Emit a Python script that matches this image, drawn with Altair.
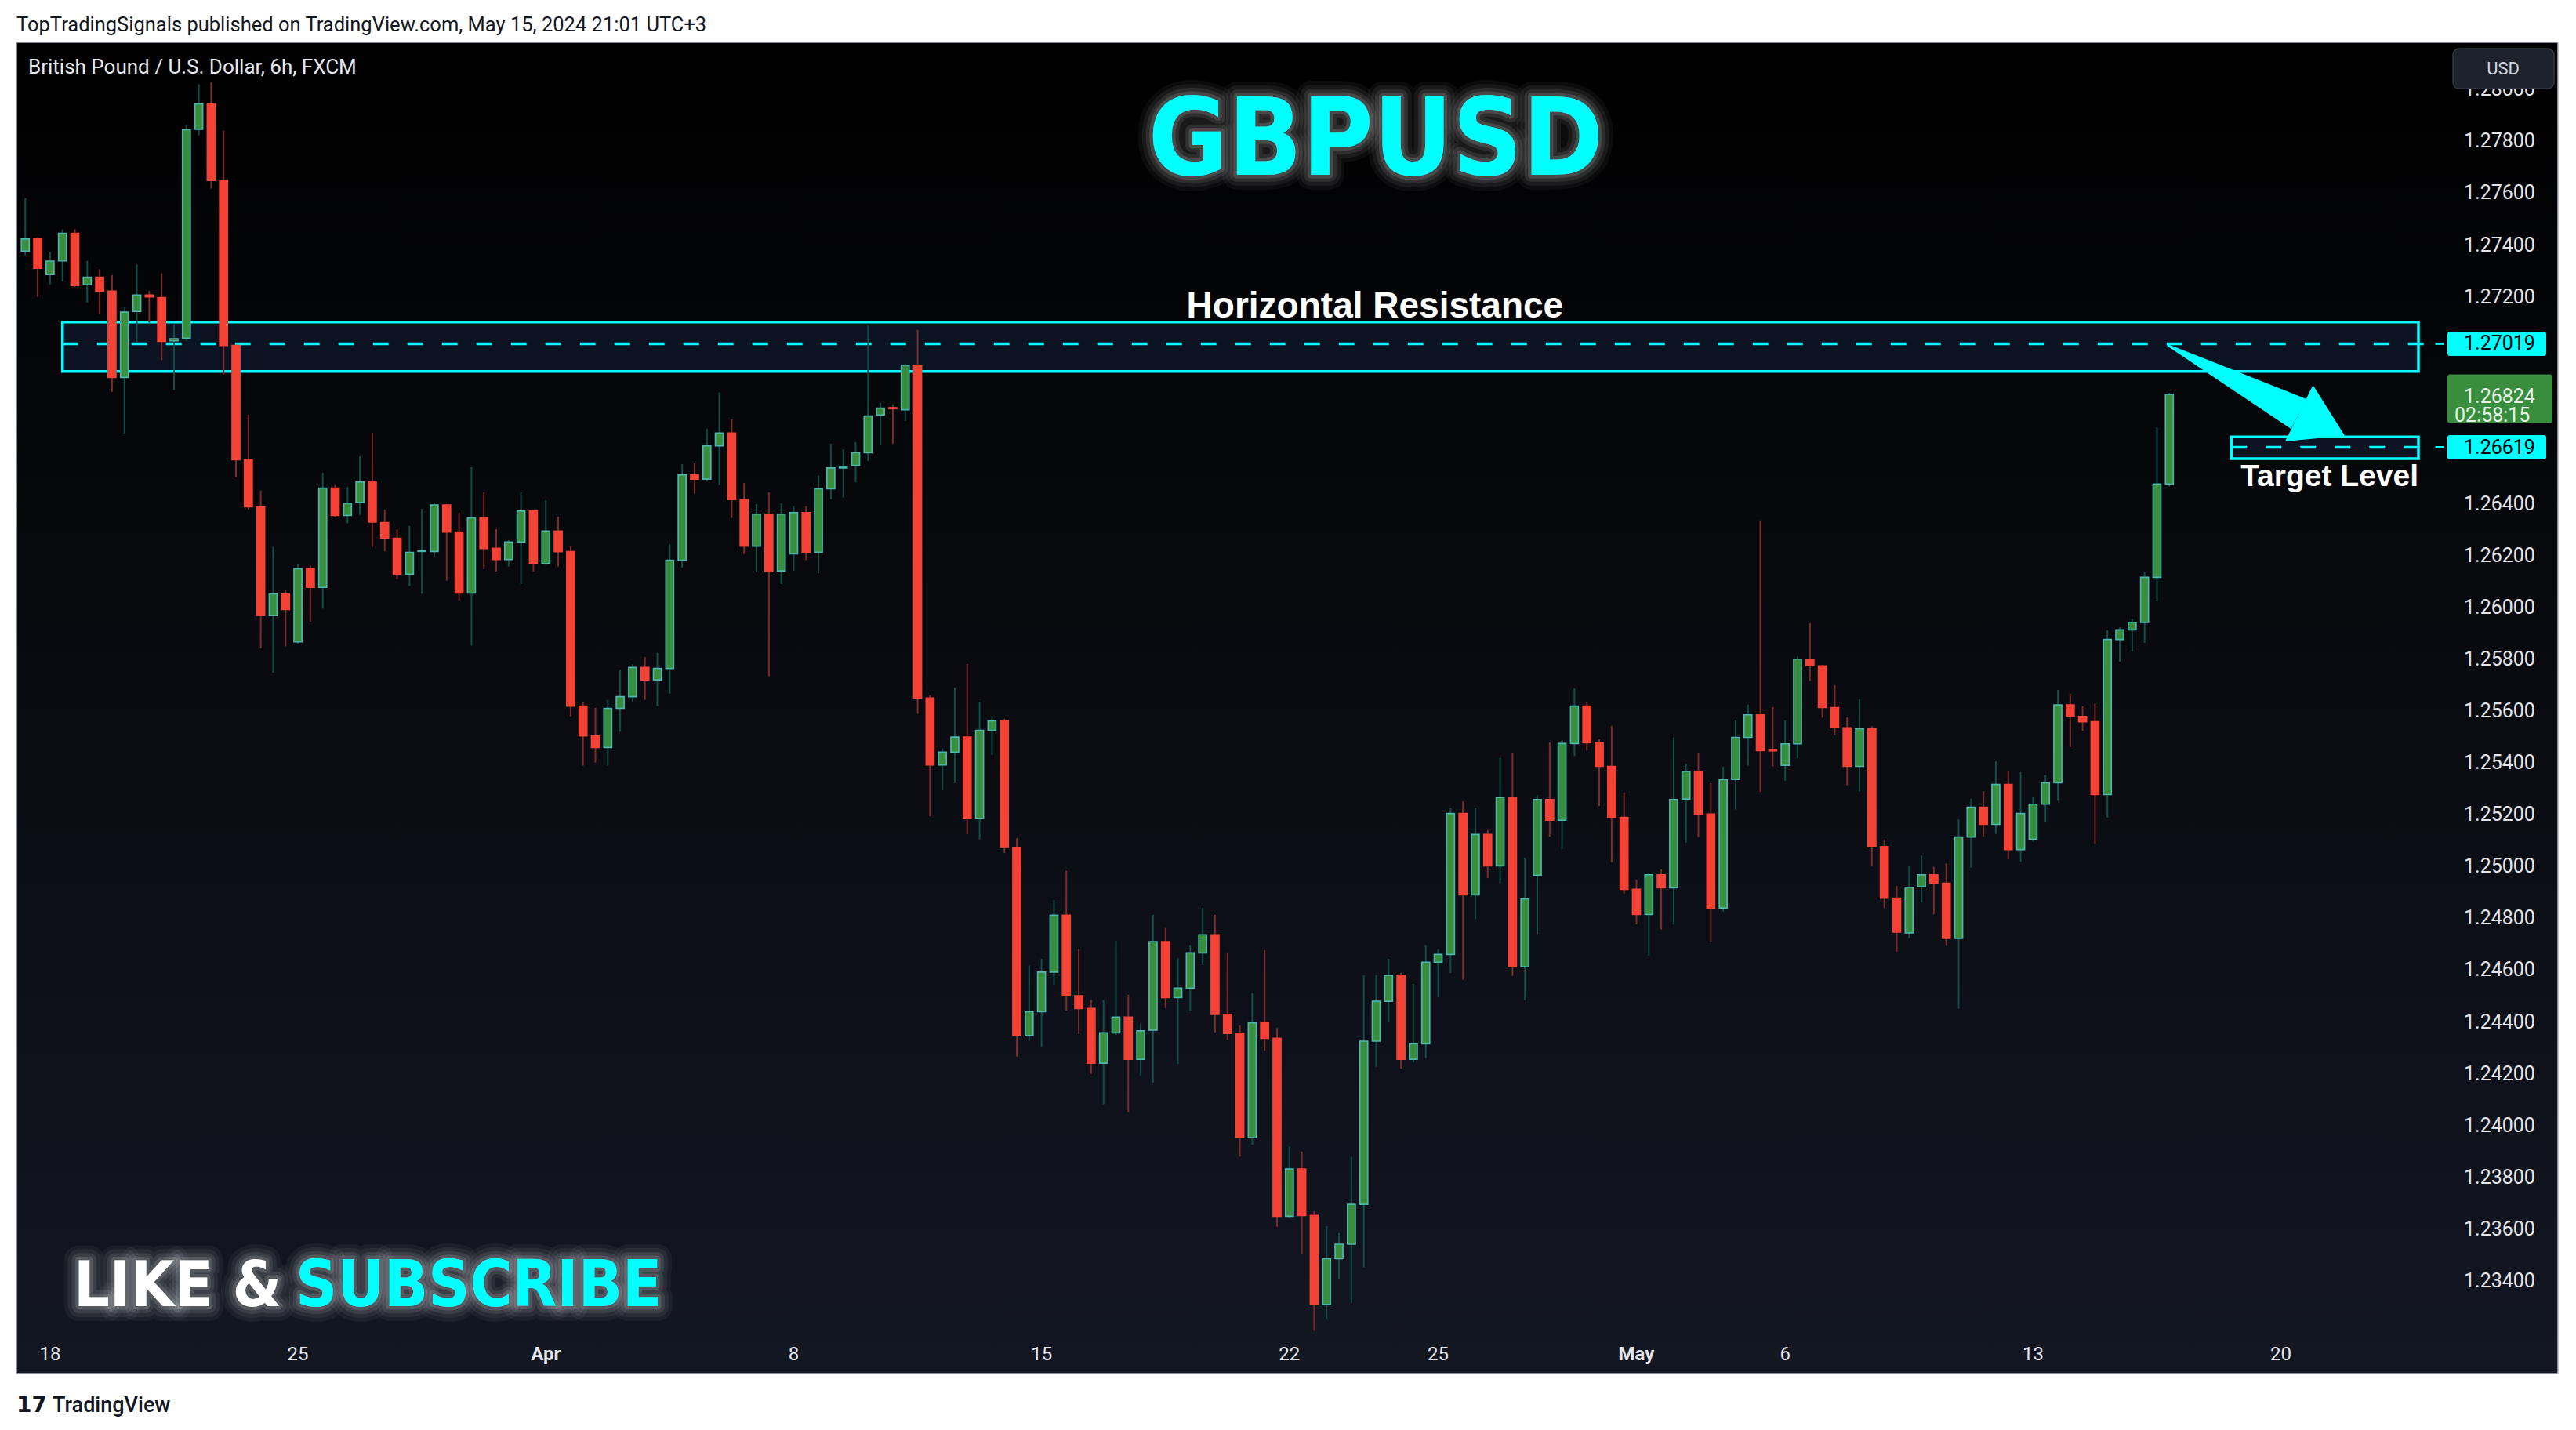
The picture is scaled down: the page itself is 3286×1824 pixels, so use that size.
import altair as alt
import pandas as pd

# ---------------- data (GBPUSD 6h candles, FXCM) ----------------
FIRST_CANDLE = -2  # candle index 0 = Mon 18 Mar 00:00, 4 candles per trading day
OPEN = [1.27376, 1.27423, 1.27286, 1.27339, 1.27445, 1.27247, 1.27276, 1.27222, 1.26889, 1.27144,
        1.27207, 1.27197, 1.27030, 1.27040, 1.27847, 1.27945, 1.27649, 1.27012, 1.26571, 1.26389,
        1.25969, 1.26053, 1.25868, 1.26150, 1.26078, 1.26461, 1.26356, 1.26406, 1.26485, 1.26328,
        1.26268, 1.26129, 1.26217, 1.26217, 1.26396, 1.26292, 1.26056, 1.26347, 1.26229, 1.26186,
        1.26253, 1.26373, 1.26171, 1.26296, 1.26216, 1.25620, 1.25505, 1.25460, 1.25611, 1.25656,
        1.25769, 1.25721, 1.25765, 1.26183, 1.26513, 1.26496, 1.26625, 1.26674, 1.26417, 1.26237,
        1.26361, 1.26142, 1.26208, 1.26367, 1.26214, 1.26459, 1.26539, 1.26549, 1.26598, 1.26744,
        1.26772, 1.26764, 1.26936, 1.25651, 1.25393, 1.25442, 1.25500, 1.25185, 1.25526, 1.25563,
        1.25074, 1.24348, 1.24440, 1.24593, 1.24812, 1.24501, 1.24452, 1.24241, 1.24358, 1.24419,
        1.24256, 1.24369, 1.24710, 1.24494, 1.24531, 1.24667, 1.24737, 1.24429, 1.24356, 1.23953,
        1.24397, 1.24337, 1.23650, 1.23832, 1.23653, 1.23309, 1.23486, 1.23542, 1.23696, 1.24326,
        1.24480, 1.24580, 1.24256, 1.24316, 1.24631, 1.24661, 1.25205, 1.24891, 1.25124, 1.25003,
        1.25267, 1.24613, 1.24967, 1.25259, 1.25179, 1.25475, 1.25620, 1.25478, 1.25387, 1.25190,
        1.24912, 1.24815, 1.24968, 1.24918, 1.25261, 1.25368, 1.25203, 1.24840, 1.25337, 1.25499,
        1.25586, 1.25451, 1.25391, 1.25474, 1.25801, 1.25775, 1.25614, 1.25536, 1.25387, 1.25533,
        1.25077, 1.24878, 1.24744, 1.24923, 1.24968, 1.24936, 1.24723, 1.25114, 1.25229, 1.25163,
        1.25317, 1.25066, 1.25106, 1.25241, 1.25324, 1.25624, 1.25580, 1.25559, 1.25278, 1.25877,
        1.25914, 1.25943, 1.26117, 1.26477]
HIGH = [1.27581, 1.27430, 1.27373, 1.27461, 1.27461, 1.27339, 1.27307, 1.27284, 1.27159, 1.27325,
        1.27222, 1.27291, 1.27094, 1.27863, 1.28021, 1.28029, 1.27842, 1.27015, 1.26745, 1.26452,
        1.26235, 1.26070, 1.26166, 1.26163, 1.26521, 1.26477, 1.26465, 1.26584, 1.26675, 1.26378,
        1.26302, 1.26315, 1.26381, 1.26406, 1.26400, 1.26366, 1.26542, 1.26445, 1.26303, 1.26261,
        1.26445, 1.26378, 1.26415, 1.26351, 1.26236, 1.25634, 1.25613, 1.25643, 1.25761, 1.25782,
        1.25809, 1.25825, 1.26245, 1.26554, 1.26557, 1.26690, 1.26831, 1.26727, 1.26481, 1.26400,
        1.26445, 1.26402, 1.26392, 1.26392, 1.26510, 1.26633, 1.26611, 1.26639, 1.27089, 1.26791,
        1.26785, 1.26942, 1.27073, 1.25661, 1.25457, 1.25692, 1.25782, 1.25637, 1.25581, 1.25570,
        1.25109, 1.24618, 1.24644, 1.24871, 1.24984, 1.24681, 1.24485, 1.24485, 1.24714, 1.24505,
        1.24393, 1.24814, 1.24763, 1.24646, 1.24696, 1.24841, 1.24814, 1.24666, 1.24387, 1.24511,
        1.24677, 1.24376, 1.23919, 1.23900, 1.23670, 1.23612, 1.23585, 1.23879, 1.24580, 1.24580,
        1.24644, 1.24590, 1.24547, 1.24696, 1.24681, 1.25225, 1.25252, 1.25225, 1.25141, 1.25420,
        1.25440, 1.25034, 1.25277, 1.25479, 1.25488, 1.25688, 1.25634, 1.25491, 1.25544, 1.25286,
        1.24950, 1.24974, 1.24989, 1.25498, 1.25398, 1.25440, 1.25322, 1.25386, 1.25565, 1.25625,
        1.26337, 1.25616, 1.25565, 1.25811, 1.25940, 1.25779, 1.25700, 1.25576, 1.25646, 1.25542,
        1.25104, 1.24925, 1.25004, 1.25043, 1.24999, 1.25012, 1.25182, 1.25262, 1.25291, 1.25406,
        1.25367, 1.25364, 1.25270, 1.25353, 1.25682, 1.25667, 1.25619, 1.25630, 1.25912, 1.25924,
        1.25958, 1.26136, 1.26696, 1.26829]
LOW = [1.27361, 1.27200, 1.27248, 1.27259, 1.27237, 1.27178, 1.27134, 1.26833, 1.26672, 1.27024,
       1.27100, 1.26955, 1.26840, 1.27030, 1.27823, 1.27618, 1.26899, 1.26503, 1.26378, 1.25843,
       1.25748, 1.25850, 1.25860, 1.25946, 1.25996, 1.26348, 1.26326, 1.26359, 1.26235, 1.26217,
       1.26110, 1.26083, 1.26053, 1.26197, 1.26104, 1.26028, 1.25853, 1.26149, 1.26140, 1.26159,
       1.26091, 1.26140, 1.26165, 1.26159, 1.25580, 1.25390, 1.25402, 1.25390, 1.25520, 1.25638,
       1.25644, 1.25620, 1.25668, 1.26155, 1.26440, 1.26486, 1.26473, 1.26346, 1.26207, 1.26137,
       1.25735, 1.26091, 1.26142, 1.26183, 1.26132, 1.26418, 1.26425, 1.26484, 1.26566, 1.26627,
       1.26633, 1.26721, 1.25590, 1.25195, 1.25295, 1.25322, 1.25125, 1.25105, 1.25432, 1.25052,
       1.24266, 1.24327, 1.24303, 1.24544, 1.24444, 1.24354, 1.24200, 1.24082, 1.24350, 1.24051,
       1.24192, 1.24166, 1.24454, 1.24237, 1.24444, 1.24620, 1.24360, 1.24330, 1.23880, 1.23927,
       1.24290, 1.23609, 1.23645, 1.23503, 1.23208, 1.23253, 1.23406, 1.23315, 1.23452, 1.24227,
       1.24399, 1.24220, 1.24244, 1.24261, 1.24496, 1.24590, 1.24563, 1.24797, 1.24956, 1.24936,
       1.24578, 1.24484, 1.24741, 1.25116, 1.25068, 1.25427, 1.25448, 1.25234, 1.25017, 1.24896,
       1.24777, 1.24657, 1.24757, 1.24777, 1.25093, 1.25114, 1.24711, 1.24827, 1.25221, 1.25390,
       1.25288, 1.25387, 1.25332, 1.25418, 1.25717, 1.25575, 1.25508, 1.25314, 1.25290, 1.25003,
       1.24839, 1.24672, 1.24723, 1.24861, 1.24816, 1.24694, 1.24451, 1.24996, 1.25116, 1.25126,
       1.25028, 1.25020, 1.25096, 1.25173, 1.25254, 1.25461, 1.25525, 1.25088, 1.25189, 1.25791,
       1.25830, 1.25864, 1.26024, 1.26467]
CLOSE = [1.27423, 1.27310, 1.27338, 1.27445, 1.27244, 1.27276, 1.27222, 1.26889, 1.27141, 1.27207,
         1.27200, 1.27028, 1.27038, 1.27845, 1.27945, 1.27649, 1.27012, 1.26571, 1.26389, 1.25969,
         1.26053, 1.25993, 1.26150, 1.26078, 1.26461, 1.26356, 1.26403, 1.26485, 1.26330, 1.26268,
         1.26129, 1.26213, 1.26219, 1.26396, 1.26292, 1.26056, 1.26347, 1.26228, 1.26186, 1.26253,
         1.26373, 1.26171, 1.26296, 1.26216, 1.25620, 1.25505, 1.25460, 1.25611, 1.25656, 1.25769,
         1.25721, 1.25765, 1.26183, 1.26513, 1.26496, 1.26625, 1.26674, 1.26417, 1.26237, 1.26361,
         1.26140, 1.26361, 1.26367, 1.26214, 1.26459, 1.26539, 1.26545, 1.26598, 1.26740, 1.26770,
         1.26768, 1.26936, 1.25651, 1.25393, 1.25442, 1.25500, 1.25185, 1.25526, 1.25563, 1.25074,
         1.24348, 1.24440, 1.24593, 1.24812, 1.24501, 1.24452, 1.24241, 1.24358, 1.24419, 1.24256,
         1.24366, 1.24710, 1.24494, 1.24531, 1.24667, 1.24737, 1.24429, 1.24356, 1.23953, 1.24397,
         1.24337, 1.23650, 1.23832, 1.23653, 1.23309, 1.23486, 1.23542, 1.23696, 1.24326, 1.24480,
         1.24580, 1.24256, 1.24316, 1.24631, 1.24661, 1.25205, 1.24891, 1.25124, 1.25003, 1.25267,
         1.24613, 1.24875, 1.25259, 1.25179, 1.25475, 1.25620, 1.25478, 1.25387, 1.25190, 1.24912,
         1.24815, 1.24968, 1.24918, 1.25259, 1.25368, 1.25203, 1.24840, 1.25337, 1.25499, 1.25586,
         1.25448, 1.25447, 1.25474, 1.25801, 1.25776, 1.25614, 1.25537, 1.25387, 1.25532, 1.25077,
         1.24878, 1.24747, 1.24920, 1.24968, 1.24936, 1.24723, 1.25114, 1.25229, 1.25163, 1.25317,
         1.25066, 1.25205, 1.25241, 1.25324, 1.25624, 1.25581, 1.25559, 1.25278, 1.25877, 1.25914,
         1.25943, 1.26117, 1.26477, 1.26824]

TIME_TICKS = [0, 20, 40, 60, 80, 100, 112, 128, 140, 160, 180]
TIME_LABELS = ["18", "25", "Apr", "8", "15", "22", "25", "May", "6", "13", "20"]
PRICE_TICKS = [1.234, 1.236, 1.238, 1.240, 1.242, 1.244, 1.246, 1.248, 1.250, 1.252,
               1.254, 1.256, 1.258, 1.260, 1.262, 1.264, 1.272, 1.274, 1.276, 1.278, 1.280]

RESISTANCE = 1.27019
TARGET = 1.26619
LAST_PRICE = 1.26824
COUNTDOWN = "02:58:15"
BOX_START = [1.0, 176.0]
BOX_END = [191.1, 191.1]
BOX_TOP = [1.27103, 1.26659]
BOX_BOTTOM = [1.26912, 1.26575]
LEVEL_START = [1.0, 176.0]
LEVEL_END = 192.46
LEVEL_TICK_END = 193.15

HEADER = "TopTradingSignals published on TradingView.com, May 15, 2024 21:01 UTC+3"
SYMBOL = "British Pound / U.S. Dollar, 6h, FXCM"
TITLE = "GBPUSD"
RES_TEXT = "Horizontal Resistance"
TARGET_TEXT = "Target Level"

# ---------------- styles ----------------
W, H = 3242, 1698
X_DOMAIN = [-2.396, 202.04]
Y_DOMAIN = [1.230425, 1.281826]
xs = alt.Scale(domain=X_DOMAIN, nice=False, zero=False)
ys = alt.Scale(domain=Y_DOMAIN, nice=False, zero=False)

FONT = "Roboto"
COND = "'Liberation Sans Narrow', 'DejaVu Sans Condensed', 'Liberation Sans', sans-serif"
BOLD = "'Liberation Sans', Arial, sans-serif"
CYAN = "#00ffff"
AXIS_TEXT = "#e3e5ea"
UP_BODY, UP_BORDER, UP_WICK = "#388e3c", "#4db6ac", "#0f4e47"
DN_BODY, DN_BORDER, DN_WICK = "#f44336", "#f44336", "#7d2a2a"
UP = "datum.close >= datum.open"

df = pd.DataFrame({
    "i": list(range(FIRST_CANDLE, FIRST_CANDLE + len(OPEN))),
    "open": OPEN, "high": HIGH, "low": LOW, "close": CLOSE,
})
one = pd.DataFrame({"k": [0]})


def X(field):
    return alt.X(field, scale=xs, axis=None)


def Y(field):
    return alt.Y(field, scale=ys, axis=None)


def dx(v):
    return alt.XDatum(v, scale=xs, axis=None)


def dy(v):
    return alt.YDatum(v, scale=ys, axis=None)


bg = alt.Chart(one).mark_rect(
    fill=alt.Gradient(gradient="linear",
                      stops=[alt.GradientStop(color="#000000", offset=0),
                             alt.GradientStop(color="#131722", offset=1)],
                      x1=0, x2=0, y1=0, y2=1),
    stroke="#b4b7bf", strokeWidth=1.5,
).encode(x=alt.value(0), x2=alt.value("width"), y=alt.value(0), y2=alt.value("height"))

boxes = alt.Chart(pd.DataFrame({"x": BOX_START, "x2": BOX_END, "top": BOX_TOP, "bottom": BOX_BOTTOM})).mark_rect(
    fill="#0b1222", stroke=CYAN, strokeWidth=3.5
).encode(x=X("x:Q"), x2="x2:Q", y=Y("top:Q"), y2="bottom:Q")

levels_df = pd.DataFrame({"x": LEVEL_START, "x2": [LEVEL_END, LEVEL_END], "xt": [LEVEL_TICK_END, LEVEL_TICK_END],
                          "y": [RESISTANCE, TARGET]})
dashed = alt.Chart(levels_df).mark_rule(color=CYAN, strokeWidth=3.5, strokeDash=[20, 24]).encode(
    x=X("x:Q"), x2="x2:Q", y=Y("y:Q"))
tick_lines = alt.Chart(levels_df).mark_rule(color=CYAN, strokeWidth=3).encode(
    x=X("x2:Q"), x2="xt:Q", y=Y("y:Q"))

wicks = alt.Chart(df).mark_rule(strokeWidth=2).encode(
    x=X("i:Q"), y=Y("low:Q"), y2="high:Q",
    color=alt.condition(UP, alt.value(UP_WICK), alt.value(DN_WICK)),
)
bodies = alt.Chart(df).mark_bar(size=10, strokeWidth=1.7, orient="vertical").encode(
    x=X("i:Q"), y=Y("open:Q"), y2="close:Q",
    fill=alt.condition(UP, alt.value(UP_BODY), alt.value(DN_BODY)),
    stroke=alt.condition(UP, alt.value(UP_BORDER), alt.value(DN_BORDER)),
)

# ---- scale labels drawn as text through the scales ----
time_df = pd.DataFrame({"t": TIME_TICKS, "label": TIME_LABELS})
time_days = alt.Chart(time_df).transform_filter("isValid(toNumber(datum.label)) && toNumber(datum.label) > 0").mark_text(
    font=FONT, fontSize=24, color=AXIS_TEXT, align="center", baseline="middle"
).encode(x=X("t:Q"), y=alt.value(H - 24), text="label:N")
time_months = alt.Chart(time_df).transform_filter("!(toNumber(datum.label) > 0)").mark_text(
    font=FONT, fontSize=24, fontWeight="bold", color=AXIS_TEXT, align="center", baseline="middle"
).encode(x=X("t:Q"), y=alt.value(H - 24), text="label:N")
price_labels = alt.Chart(pd.DataFrame({"p": PRICE_TICKS})).mark_text(
    font=FONT, fontSize=25, color=AXIS_TEXT, align="left", baseline="middle"
).encode(x=alt.value(W - 120), y=Y("p:Q"), text=alt.Text("p:Q", format=".5f"))

# arrow from resistance to target
shaft = alt.Chart(one).mark_point(shape="M-1,-0.012 L1,-0.227 L1,0.227 L-1,0.012 Z", filled=True,
                                  size=35872, angle=27.7, color=CYAN, opacity=1, strokeWidth=0).encode(
    x=dx(176.14), y=dy(1.26881))
head = alt.Chart(one).mark_point(shape="M0.8125,0 L-0.8125,-1 L-0.8125,1 Z", filled=True,
                                 size=6400, angle=26.3, color=CYAN, opacity=1, strokeWidth=0).encode(
    x=dx(183.31), y=dy(1.26707))

res_text = alt.Chart(one).mark_text(text=RES_TEXT, font=BOLD, fontSize=46, fontWeight="bold",
                                    color="#ffffff", align="center", baseline="alphabetic").encode(
    x=dx(106.9), y=dy(1.27120))
tgt_text = alt.Chart(one).mark_text(text=TARGET_TEXT, font=BOLD, fontSize=39, fontWeight="bold",
                                    color="#ffffff", align="right", baseline="alphabetic").encode(
    x=dx(191.1), y=dy(1.26469))


def glow(text, x, y, size, color, align="left"):
    out = []
    for w, op in [(38, 0.045), (28, 0.06), (18, 0.09), (9, 0.13)]:
        out.append(alt.Chart(one).mark_text(
            text=text, font=COND, fontSize=size, fontWeight="bold", align=align, baseline="alphabetic",
            fill="#ffffff", fillOpacity=op, stroke="#ffffff", strokeOpacity=op, strokeWidth=w,
            strokeJoin="round").encode(x=alt.value(x), y=alt.value(y)))
    out.append(alt.Chart(one).mark_text(
        text=text, font=COND, fontSize=size, fontWeight="bold", align=align, baseline="alphabetic",
        fill=color).encode(x=alt.value(x), y=alt.value(y)))
    return out


title_layers = glow(TITLE, 1734, 169, 138, CYAN, align="center")
like_layers = glow("LIKE &", 73, 1612, 80, "#ffffff") + glow("SUBSCRIBE", 356, 1612, 82, CYAN)

# price tags on the scale
HALF = 15.5 * (Y_DOMAIN[1] - Y_DOMAIN[0]) / H
HALF_G = 31 * (Y_DOMAIN[1] - Y_DOMAIN[0]) / H
tags = []
for p in [RESISTANCE, TARGET]:
    tags.append(alt.Chart(one).mark_rect(fill=CYAN, cornerRadius=3).encode(
        x=alt.value(3101), x2=alt.value(3227), y=dy(p + HALF), y2=alt.datum(p - HALF)))
    tags.append(alt.Chart(one).mark_text(text=f"{p:.5f}", font=FONT, fontSize=25, color="#000000",
                                         align="left", baseline="middle").encode(
        x=alt.value(3122), y=dy(p)))
tags.append(alt.Chart(one).mark_rect(fill="#388e3c", cornerRadius=3).encode(
    x=alt.value(3101), x2=alt.value(3235), y=dy(LAST_PRICE + HALF_G * 0.82),
    y2=alt.datum(LAST_PRICE - HALF_G * 1.18)))
tags.append(alt.Chart(one).mark_text(text=f"{LAST_PRICE:.5f}", font=FONT, fontSize=25, color="#e8f0e8",
                                     align="left", baseline="middle").encode(
    x=alt.value(3122), y=dy(LAST_PRICE - HALF * 0.2)))
tags.append(alt.Chart(one).mark_text(text=COUNTDOWN, font=FONT, fontSize=25, color="#e8f0e8",
                                     align="left", baseline="middle").encode(
    x=alt.value(3110), y=dy(LAST_PRICE - HALF * 1.75)))

usd_box = alt.Chart(one).mark_rect(fill="#1e222d", stroke="#363a45", strokeWidth=1.5, cornerRadius=8).encode(
    x=alt.value(3108), x2=alt.value(3237), y=alt.value(8), y2=alt.value(59))
usd_text = alt.Chart(one).mark_text(text="USD", font=FONT, fontSize=22, color="#d1d4dc",
                                    align="center", baseline="middle").encode(
    x=alt.value(3172), y=alt.value(34))

header = alt.Chart(one).mark_text(text=HEADER, font=FONT, fontSize=25.5, color="#131722",
                                  align="left", baseline="alphabetic").encode(
    x=alt.value(0), y=alt.value(-14.5))
symbol = alt.Chart(one).mark_text(text=SYMBOL, font=FONT, fontSize=26, color="#e6e8ee",
                                  align="left", baseline="alphabetic").encode(
    x=alt.value(15), y=alt.value(40))
logo = alt.Chart(one).mark_text(text="17", font="'DejaVu Sans'", fontSize=28, fontWeight="bold",
                                color="#131722", align="left", baseline="alphabetic").encode(
    x=alt.value(0), y=alt.value(1747))
footer = alt.Chart(one).mark_text(text="TradingView", font=FONT, fontSize=27, fontWeight=500,
                                  color="#131722", align="left", baseline="alphabetic").encode(
    x=alt.value(46), y=alt.value(1747))

layers = ([bg, boxes, dashed, tick_lines, wicks, bodies, time_days, time_months, price_labels,
           shaft, head, res_text, tgt_text]
          + title_layers + like_layers + tags + [usd_box, usd_text, header, symbol, logo, footer])

chart = alt.layer(*layers).properties(
    width=W, height=H,
    padding={"left": 13, "top": 46, "right": 15, "bottom": 62},
    autosize=alt.AutoSizeParams(type="none"),
).configure(background="white").configure_view(strokeWidth=0)

chart.save("out.html", embed_options={"renderer": "svg", "actions": False})
